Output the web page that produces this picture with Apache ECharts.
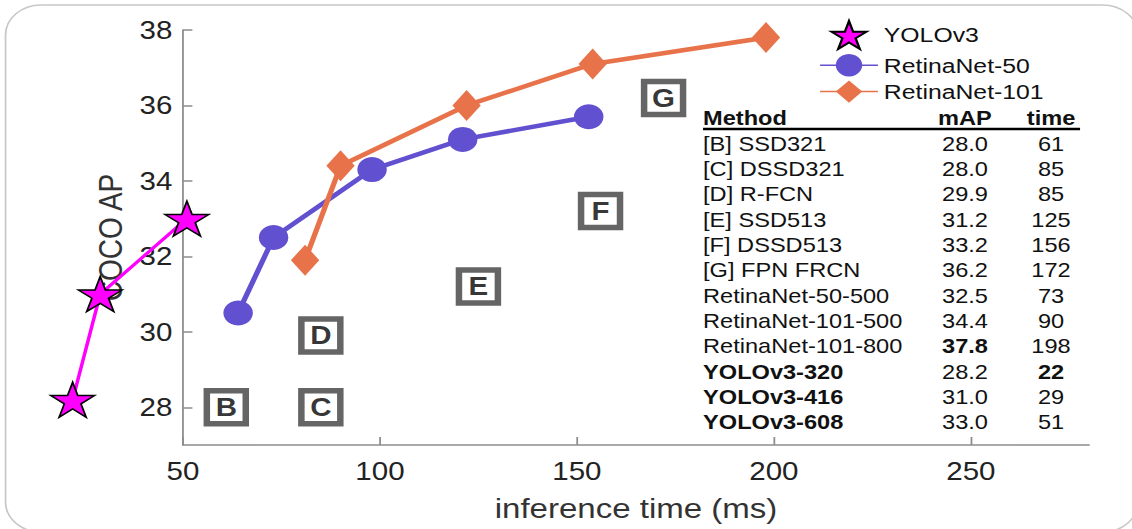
<!DOCTYPE html>
<html>
<head>
<meta charset="utf-8">
<script src="https://cdn.jsdelivr.net/npm/echarts@6/dist/echarts.min.js"></script>
<style>
  html, body { margin: 0; padding: 0; background: #ffffff; overflow: hidden; }
  /* the figure is laid out on a narrower canvas and widened horizontally */
  #chart { width: 959px; height: 529px; transform: scaleX(1.1804); transform-origin: 0 0; }
</style>
</head>
<body>
<div id="chart"></div>
<script>
// axis ticks
const xTicks = [50, 100, 150, 200, 250];
const yTicks = [28, 30, 32, 34, 36, 38];

// speed / accuracy curves
const yoloTime = [22, 29, 51];
const yoloAP = [28.2, 31.0, 33.0];
const retina50Time = [64, 73, 98, 121, 153];
const retina50AP = [30.5, 32.5, 34.3, 35.1, 35.7];
const retina101Time = [81, 90, 122, 154, 198];
const retina101AP = [31.9, 34.4, 36.0, 37.1, 37.8];

// results table
const tableMethods = [
  '[B] SSD321', '[C] DSSD321', '[D] R-FCN', '[E] SSD513', '[F] DSSD513', '[G] FPN FRCN',
  'RetinaNet-50-500', 'RetinaNet-101-500', 'RetinaNet-101-800',
  'YOLOv3-320', 'YOLOv3-416', 'YOLOv3-608'
];
const tableMAP = [28.0, 28.0, 29.9, 31.2, 33.2, 36.2, 32.5, 34.4, 37.8, 28.2, 31.0, 33.0];
const tableTime = [61, 85, 85, 125, 156, 172, 73, 90, 198, 22, 29, 51];

const FONT = "'Liberation Sans', Arial, Helvetica, sans-serif";
const STAR = 'path://M50 0 L61.23 34.55 L97.55 34.55 L68.17 55.9 L79.39 90.45 L50 69.1 L20.61 90.45 L31.83 55.9 L2.45 34.55 L38.77 34.55 Z';

const zip = (xs, ys) => xs.map((x, i) => [x, ys[i]]);

// plot frame (px) and x range
const plotLeft = 155, plotRight = 36.4, plotTop = 30, plotBottom = 84;
const xMin = 50, xMax = 280, yMin = 27, yMax = 38;
// YOLOv3 runs faster than the axis start, so it sits on a wider, hidden
// x scale with exactly the same px-per-ms as the main axis
const pxPerMs = (959 - plotLeft - plotRight) / (xMax - xMin);
const xMinWide = 20;
const wideLeft = plotLeft - (xMin - xMinWide) * pxPerMs;

// lettered methods shown as boxes inside the plot
const boxData = [];
tableMethods.forEach((m, i) => {
  const hit = /^\[([A-Z])\]/.exec(m);
  if (hit) boxData.push([tableTime[i], tableMAP[i], hit[1]]);
});

// table drawn as text on the right-hand side
const bestMAP = Math.max(...tableMAP);
const bestTime = Math.min(...tableTime);
const colMethod = 595.6, colMAP = 817.5, colTime = 890.4;
const headY = 118, rowY0 = 144, rowStep = 25.3;
const tableGraphics = [];
function cell(text, x, y, align, bold) {
  tableGraphics.push({
    type: 'text', x: x, y: y, z: 10,
    style: {
      text: String(text), align: align, verticalAlign: 'middle',
      fontFamily: FONT, fontSize: 20, fontWeight: bold ? 'bold' : 'normal', fill: '#111'
    }
  });
}
cell('Method', colMethod, headY, 'left', true);
cell('mAP', colMAP, headY, 'center', true);
cell('time', colTime, headY, 'center', true);
tableGraphics.push({
  type: 'line', z: 10,
  shape: { x1: colMethod, y1: 129, x2: 915, y2: 129 },
  style: { stroke: '#000', lineWidth: 2.5 }
});
tableMethods.forEach((m, i) => {
  const y = rowY0 + i * rowStep;
  cell(m, colMethod, y, 'left', m.indexOf('YOLOv3') === 0);
  cell(tableMAP[i].toFixed(1), colMAP, y, 'center', tableMAP[i] === bestMAP);
  cell(tableTime[i], colTime, y, 'center', tableTime[i] === bestTime);
});

const axisGrey = '#8c8c8c';
const chart = echarts.init(document.getElementById('chart'), null, { renderer: 'svg' });
chart.setOption({
  animation: false,
  backgroundColor: '#ffffff',
  textStyle: { fontFamily: FONT },
  grid: [
    { left: plotLeft, right: plotRight, top: plotTop, bottom: plotBottom, containLabel: false, outerBoundsMode: 'none' },
    { left: wideLeft, right: plotRight, top: plotTop, bottom: plotBottom, containLabel: false, outerBoundsMode: 'none' }
  ],
  legend: {
    orient: 'vertical',
    left: 694, top: 20, padding: 0,
    itemWidth: 49, itemHeight: 28, itemGap: 4,
    textStyle: { fontFamily: FONT, fontSize: 21, color: '#111' },
    lineStyle: { width: 1.5 },
    data: [
      { name: 'YOLOv3', icon: STAR },
      { name: 'RetinaNet-50' },
      { name: 'RetinaNet-101' }
    ],
    selectedMode: false
  },
  xAxis: [
    {
      gridIndex: 0, type: 'value', min: xMin, max: xMax, interval: 50,
      name: 'inference time (ms)', nameLocation: 'middle', nameGap: 49,
      nameTextStyle: { fontFamily: FONT, fontSize: 28, color: '#333' },
      splitLine: { show: false },
      axisLine: { show: true, lineStyle: { color: axisGrey, width: 1.5 } },
      axisTick: { show: true, inside: true, length: 8, customValues: xTicks, lineStyle: { color: axisGrey, width: 1.5 } },
      axisLabel: { customValues: xTicks, margin: 14, fontFamily: FONT, fontSize: 25, color: '#222' }
    },
    {
      gridIndex: 1, type: 'value', min: xMinWide, max: xMax, show: false,
      splitLine: { show: false }
    }
  ],
  yAxis: [
    {
      gridIndex: 0, type: 'value', min: yMin, max: yMax, interval: 1,
      name: 'COCO AP', nameLocation: 'middle', nameGap: 46,
      nameTextStyle: { fontFamily: FONT, fontSize: 28, color: '#333' },
      splitLine: { show: false },
      axisLine: { show: true, lineStyle: { color: axisGrey, width: 1.5 } },
      axisTick: { show: true, inside: true, length: 8, customValues: yTicks, lineStyle: { color: axisGrey, width: 1.5 } },
      axisLabel: { customValues: yTicks, margin: 9, fontFamily: FONT, fontSize: 25, color: '#222' }
    },
    {
      gridIndex: 1, type: 'value', min: yMin, max: yMax, show: false,
      splitLine: { show: false }
    }
  ],
  graphic: [
    {
      type: 'rect', z: -10, silent: true,
      shape: { x: 4.7, y: 5, width: 959.4, height: 527, r: 30 },
      style: { fill: 'none', stroke: '#c8c8c8', lineWidth: 1.5 }
    }
  ].concat(tableGraphics),
  series: [
    {
      name: 'lettered',
      type: 'scatter',
      data: boxData,
      symbol: 'rect',
      symbolSize: 33,
      z: 3,
      itemStyle: { color: '#ffffff', borderColor: '#3f3f3f', borderWidth: 5.5 },
      label: {
        show: true, position: 'inside',
        formatter: p => p.value[2],
        fontFamily: FONT, fontSize: 25, fontWeight: 'bold', color: '#000'
      }
    },
    {
      name: 'RetinaNet-50',
      type: 'line',
      data: zip(retina50Time, retina50AP),
      symbol: 'circle', symbolSize: 25,
      z: 4,
      lineStyle: { color: '#6150cf', width: 4.5 },
      itemStyle: { color: '#6150cf' }
    },
    {
      name: 'RetinaNet-101',
      type: 'line',
      data: zip(retina101Time, retina101AP),
      symbol: 'diamond', symbolSize: [24, 31],
      z: 4,
      lineStyle: { color: '#e8734a', width: 4.5 },
      itemStyle: { color: '#e8734a' }
    },
    {
      name: 'YOLOv3',
      type: 'line',
      xAxisIndex: 1, yAxisIndex: 1,
      data: zip(yoloTime, yoloAP),
      symbol: STAR, symbolSize: [37, 35], symbolKeepAspect: false,
      z: 6,
      lineStyle: { color: '#ff00ff', width: 3 },
      itemStyle: { color: '#ff00ff', borderColor: '#000000', borderWidth: 1.5 }
    }
  ]
});
</script>
</body>
</html>
